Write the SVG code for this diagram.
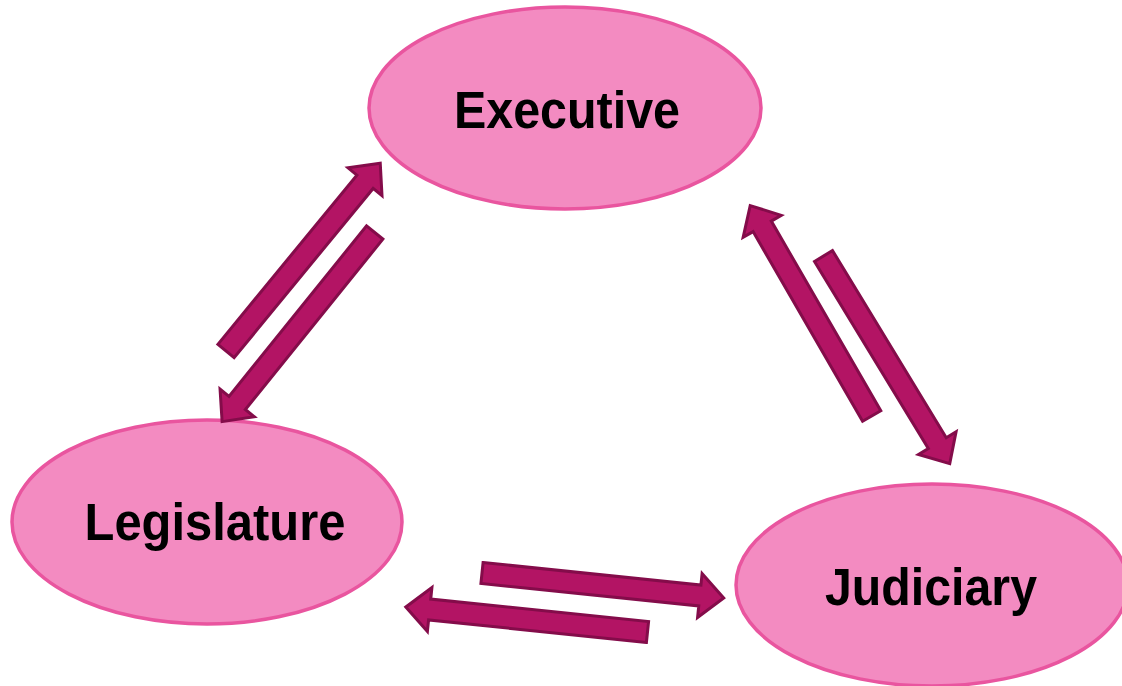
<svg xmlns="http://www.w3.org/2000/svg" width="1122" height="686" viewBox="0 0 1122 686">
<style>
.node{fill:#F38BC1;stroke:#E9559F;stroke-width:3.5}
.lbl{font-family:"Liberation Sans",Arial,sans-serif;font-weight:bold;font-size:51px;fill:#000;text-anchor:middle}
.arr{fill:#B31464;stroke:#840C4A;stroke-width:3;stroke-linejoin:miter}
</style>
<defs>
<path id="arrow" d="M0,-10.5 L219,-10.5 L219,-22 L243,0 L219,22 L219,10.5 L0,10.5 Z"/>
</defs>
<rect width="1122" height="686" fill="#fff"/>
<g id="executive"><ellipse class="node" cx="565" cy="108" rx="196" ry="101"/><text class="lbl" x="567" y="128" textLength="226" lengthAdjust="spacingAndGlyphs">Executive</text></g>
<g id="legislature"><ellipse class="node" cx="207" cy="522" rx="195" ry="102"/><text class="lbl" x="215" y="540" textLength="261" lengthAdjust="spacingAndGlyphs">Legislature</text></g>
<g id="judiciary"><ellipse class="node" cx="932" cy="585" rx="196" ry="101"/><text class="lbl" x="931" y="605" textLength="212" lengthAdjust="spacingAndGlyphs">Judiciary</text></g>
<g id="connectors">
<use class="arr" href="#arrow" transform="translate(226,351) rotate(-50.6)"/>
<use class="arr" href="#arrow" transform="translate(374.7,232.5) rotate(128.9)"/>
<use class="arr" href="#arrow" transform="translate(871.7,416) rotate(-120)"/>
<use class="arr" href="#arrow" transform="translate(823.5,256) rotate(58.7)"/>
<use class="arr" href="#arrow" transform="translate(482,573) rotate(5.9)"/>
<use class="arr" href="#arrow" transform="translate(647.5,632) rotate(185.9)"/>
</g>
</svg>
